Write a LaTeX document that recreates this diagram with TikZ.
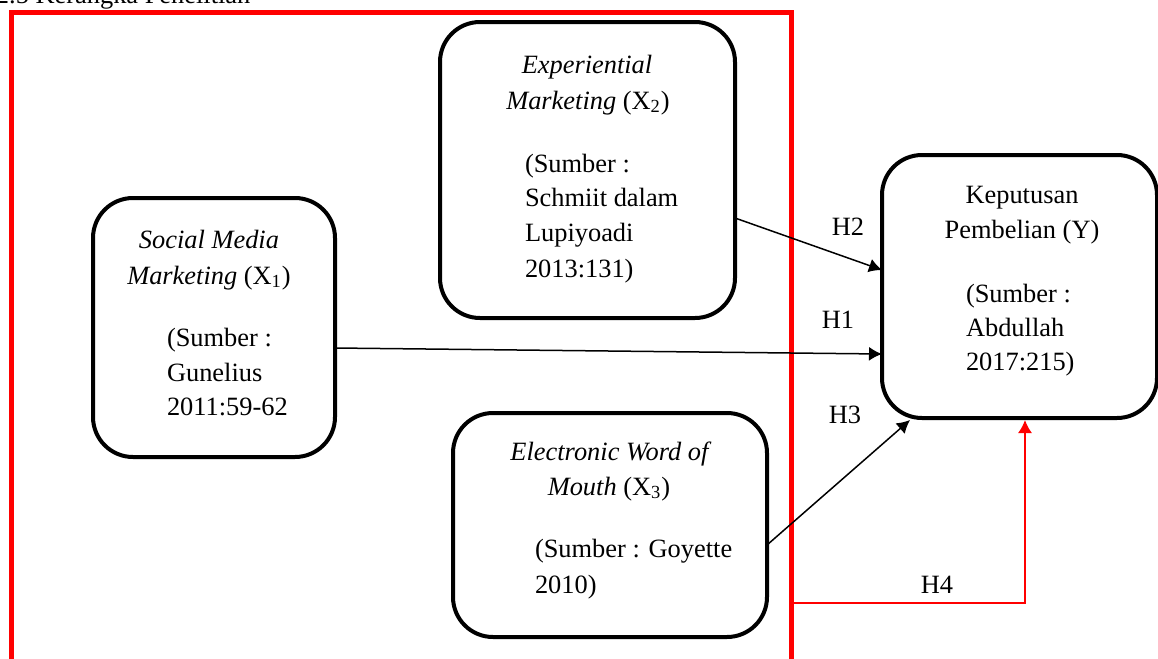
\documentclass[tikz,border=0pt]{standalone}
\usepackage{fontspec}
\setmainfont{Liberation Serif}
\usetikzlibrary{arrows.meta,calc}
\begin{document}
\begin{tikzpicture}[x=0.5pt,y=-0.5pt,
  every node/.style={font=\fontsize{13.2pt}{17.5pt}\selectfont, inner sep=0pt, outer sep=0pt},
  box/.style={draw, line width=2pt, rounded corners=20pt},
  frame/.style={draw=red, line width=2.5pt},
  conn/.style={line width=0.75pt, -{Latex[length=6.5pt,width=7pt]}},
  rconn/.style={line width=0.8pt, draw=red, -{Latex[length=6.5pt,width=7pt]}},
  ctext/.style={anchor=base},
  ltext/.style={anchor=base west},
]
\useasboundingbox (0,0) rectangle (1158,659);

% title
\node[ltext] (title) at (-4,3) {2.5 Kerangka Penelitian};

% red frame
\node[frame, minimum width=390pt, minimum height=354pt] (frame) at (401,366) {};

% boxes
\node[box, minimum width=121pt, minimum height=129.5pt] (x1) at (214,327.5) {};
\node[box, minimum width=147.5pt, minimum height=148pt] (x2) at (587.5,170) {};
\node[box, minimum width=157pt, minimum height=112pt] (x3) at (610,525) {};
\node[box, minimum width=137.5pt, minimum height=131.5pt] (y) at (1019.5,286.5) {};

% X1 text
\node[ctext] (x1a) at (209,248) {\textit{Social Media}};
\node[ctext] (x1b) at (209,284) {\textit{Marketing} (X\textsubscript{1})};
\node[ltext] (x1c) at (167,346) {(Sumber :};
\node[ltext] (x1d) at (167,381) {Gunelius};
\node[ltext] (x1e) at (167,415) {2011:59-62};

% X2 text
\node[ctext] (x2a) at (587,73) {\textit{Experiential}};
\node[ctext] (x2b) at (588,109) {\textit{Marketing} (X\textsubscript{2})};
\node[ltext] (x2c) at (525,172) {(Sumber :};
\node[ltext] (x2d) at (525,206) {Schmiit dalam};
\node[ltext] (x2e) at (525,241) {Lupiyoadi};
\node[ltext] (x2f) at (525,277) {2013:131)};

% X3 text
\node[ctext] (x3a) at (611,460) {\textit{Electronic Word of}};
\node[ctext] (x3b) at (609,495) {\textit{Mouth} (X\textsubscript{3})};
\node[ltext] (x3c) at (535,557) {(Sumber : Goyette};
\node[ltext] (x3d) at (535,593) {2010)};

% Y text
\node[ctext] (ya) at (1022,203) {Keputusan};
\node[ctext] (yb) at (1022,238) {Pembelian (Y)};
\node[ltext] (yc) at (966,302) {(Sumber :};
\node[ltext] (yd) at (966,336) {Abdullah};
\node[ltext] (ye) at (966,370) {2017:215)};

% connectors
\draw[conn] ($(x2.east)+(0,48)$) -- ($(y.west)+(0,-16.5)$);
\draw[conn] ($(x1.east)+(0,20.5)$) -- ($(y.west)+(0,67.5)$);
\draw[conn] ($(x3.east)+(0,20)$) -- ($(y.south west)+(28,2)$);
\coordinate (h4s) at (792,603);
\draw[rconn] (h4s) -| ($(y.south)+(5.5,2)$);

% labels
\node[ctext] (h2) at (848,235) {H2};
\node[ctext] (h1) at (838,328) {H1};
\node[ctext] (h3) at (845,423) {H3};
\node[ctext] (h4) at (937,593) {H4};
\end{tikzpicture}
\end{document}
